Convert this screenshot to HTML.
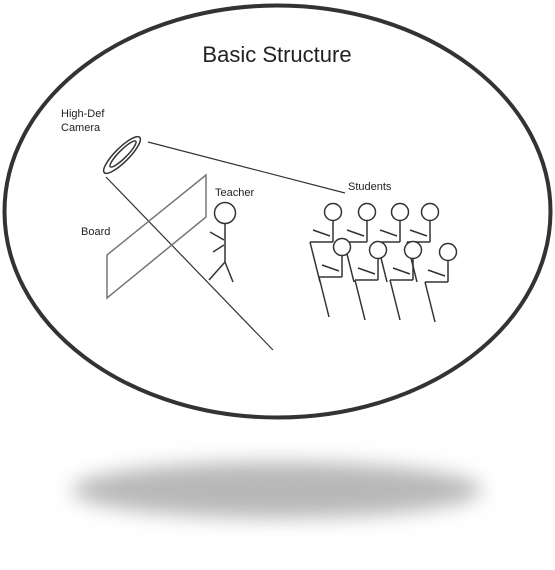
<!DOCTYPE html>
<html><head><meta charset="utf-8"><style>
html,body{margin:0;padding:0;background:#fff;width:555px;height:570px;overflow:hidden}
svg{display:block}
text{font-family:"Liberation Sans",sans-serif;fill:#222}
</style></head><body>
<svg width="555" height="570">
<defs><filter id="b" x="-30%" y="-100%" width="160%" height="300%"><feGaussianBlur stdDeviation="10"/></filter></defs>
<ellipse cx="277" cy="490" rx="205" ry="28" fill="#b8b8b8" filter="url(#b)"/>
<ellipse cx="277.5" cy="211.5" rx="273" ry="206" fill="#fff" stroke="#333" stroke-width="4"/>
<text x="277" y="62" text-anchor="middle" font-size="22">Basic Structure</text>
<g fill="none" stroke="#333">
<ellipse cx="122" cy="155" rx="25" ry="7" transform="rotate(-45 122 155)" stroke-width="1.5"/>
<ellipse cx="123" cy="154" rx="18" ry="4" transform="rotate(-45 123 154)" stroke-width="1.5"/>
</g>
<text x="61" y="117" font-size="11">High-Def</text>
<text x="61" y="131" font-size="11">Camera</text>
<line x1="148" y1="142" x2="345" y2="193" stroke="#333" stroke-width="1.2"/>
<line x1="106" y1="177" x2="273" y2="350" stroke="#333" stroke-width="1.2"/>
<g stroke="#777" stroke-width="1.5" fill="none">
<polygon points="107,255 206,175 206,217 107,298"/>
</g>
<text x="81" y="235" font-size="11">Board</text>
<text x="215" y="196" font-size="11">Teacher</text>
<g stroke="#333" stroke-width="1.5" fill="none">
<circle cx="225" cy="213" r="10.5"/>
<line x1="225" y1="224" x2="225" y2="262"/>
<line x1="225" y1="262" x2="209" y2="280"/>
<line x1="225" y1="262" x2="233" y2="282"/>
<line x1="224" y1="240" x2="210" y2="232"/>
<line x1="224" y1="245" x2="213" y2="252"/>
</g>
<text x="348" y="190" font-size="11">Students</text>
<g id="st" stroke="#333" stroke-width="1.5" fill="none"></g>
<script>
const backHeads=[[333,212],[367,212],[400,212],[430,212]];
const frontHeads=[[342,247],[378,250],[413,250],[448,252]];
const g=document.getElementById('st');
function L(a,b,c,d){const l=document.createElementNS('http://www.w3.org/2000/svg','line');l.setAttribute('x1',a);l.setAttribute('y1',b);l.setAttribute('x2',c);l.setAttribute('y2',d);


g.appendChild(l);}
function C(x,y){const c=document.createElementNS('http://www.w3.org/2000/svg','circle');c.setAttribute('cx',x);c.setAttribute('cy',y);c.setAttribute('r',8.5);c.setAttribute('fill','#fff');


g.appendChild(c);}
function student(x,y){L(x,y+9,x,y+30);L(x,y+30,x-23,y+30);L(x-23,y+30,x-13,y+70);L(x-3,y+24,x-20,y+18);C(x,y);}
backHeads.forEach(h=>student(h[0],h[1]));
frontHeads.forEach(h=>student(h[0],h[1]));
</script>
</svg>
</body></html>
